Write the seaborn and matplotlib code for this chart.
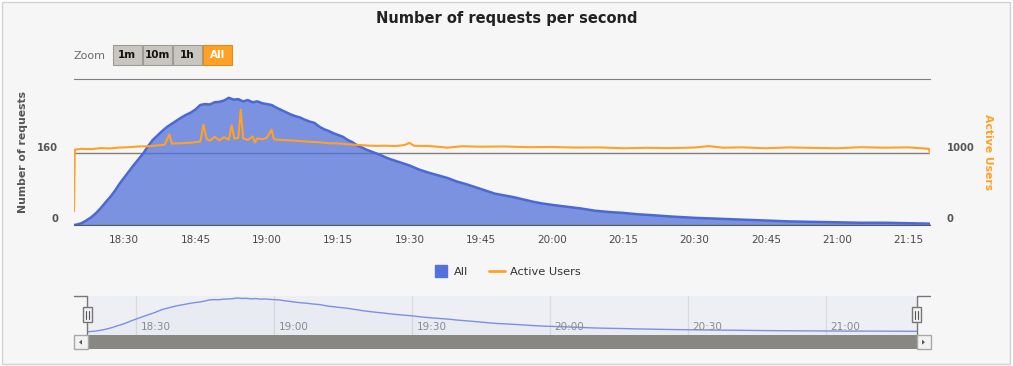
import pandas as pd
import matplotlib
matplotlib.use("Agg")
import matplotlib.pyplot as plt
import matplotlib.dates as mdates
import matplotlib.transforms as mtransforms
from matplotlib.patches import Rectangle, Polygon
from matplotlib.lines import Line2D
import seaborn as sns

DAY = "2016-01-01 "

# "All" series: number of requests per second
req_times = ["18:19:25", "18:20", "18:21", "18:22", "18:23", "18:24", "18:25", "18:26", "18:27", "18:28",
             "18:29", "18:30", "18:31", "18:32", "18:33", "18:34", "18:35", "18:36", "18:37", "18:38",
             "18:39", "18:40", "18:41", "18:42", "18:43", "18:44", "18:45", "18:46", "18:47", "18:48",
             "18:49", "18:50", "18:51", "18:52", "18:53", "18:54", "18:55", "18:56", "18:57", "18:58",
             "18:59", "19:00", "19:01", "19:02", "19:03", "19:04", "19:05", "19:06", "19:07", "19:08",
             "19:09", "19:10", "19:11", "19:12", "19:13", "19:14", "19:15", "19:16", "19:17", "19:18",
             "19:19", "19:20", "19:21", "19:22", "19:23", "19:24", "19:25", "19:26", "19:28", "19:30",
             "19:32", "19:34", "19:36", "19:38", "19:40", "19:42", "19:44", "19:46", "19:48", "19:50",
             "19:52", "19:54", "19:56", "19:58", "20:00", "20:03", "20:06", "20:09", "20:12", "20:15",
             "20:18", "20:21", "20:25", "20:30", "20:35", "20:40", "20:45", "20:50", "20:55", "21:00",
             "21:05", "21:10", "21:15", "21:19:34"]
req_values = [0, 1, 4, 10, 17, 26, 37, 50, 62, 76,
              92, 106, 120, 134, 147, 160, 176, 190, 200, 210,
              219, 226, 233, 240, 246, 251, 258, 268, 270, 269,
              274, 275, 278, 284, 280, 281, 276, 279, 274, 276,
              272, 270, 268, 262, 257, 252, 247, 243, 240, 235,
              231, 228, 220, 214, 210, 205, 201, 197, 190, 185,
              178, 173, 168, 164, 160, 156, 151, 147, 140, 133,
              124, 117, 111, 105, 97, 91, 84, 77, 70, 66,
              62, 57, 52, 48, 45, 41, 37, 32, 29, 27,
              24, 22, 19, 16, 14, 12, 10, 8, 7, 6,
              5, 5, 4, 3]

# "Active Users" series (right axis)
user_times = ["18:19:25", "18:19:35", "18:21", "18:23", "18:25", "18:27", "18:29", "18:31", "18:33", "18:35",
              "18:37", "18:38:30", "18:39:30", "18:40", "18:42", "18:44", "18:46", "18:46:40", "18:47:20", "18:48",
              "18:49", "18:50", "18:51", "18:52", "18:52:35", "18:53:10", "18:54", "18:54:30", "18:55", "18:56",
              "18:57", "18:57:30", "18:58", "18:59", "19:00", "19:01", "19:01:30", "19:03", "19:05", "19:07",
              "19:09", "19:11", "19:13", "19:15", "19:17", "19:19", "19:21", "19:23", "19:25", "19:27",
              "19:29", "19:30", "19:31", "19:34", "19:37", "19:38", "19:41", "19:45", "19:50", "19:55",
              "20:00", "20:05", "20:10", "20:15", "20:20", "20:25", "20:30", "20:33", "20:36", "20:40",
              "20:45", "20:50", "20:55", "21:00", "21:05", "21:10", "21:15", "21:19:20", "21:19:34"]
user_values = [190, 1050, 1062, 1058, 1072, 1068, 1080, 1085, 1095, 1098,
               1110, 1120, 1262, 1135, 1140, 1148, 1165, 1400, 1200, 1175,
               1230, 1180, 1225, 1190, 1390, 1205, 1215, 1610, 1210, 1185,
               1235, 1150, 1210, 1195, 1215, 1330, 1195, 1185, 1180, 1170,
               1160, 1155, 1140, 1138, 1125, 1118, 1108, 1104, 1106, 1100,
               1115, 1145, 1104, 1102, 1085, 1078, 1098, 1092, 1095, 1085,
               1088, 1080, 1082, 1070, 1076, 1072, 1080, 1100, 1078, 1083,
               1070, 1082, 1075, 1070, 1085, 1078, 1083, 1062, 1000]

x_ticks = ["18:30", "18:45", "19:00", "19:15", "19:30", "19:45", "20:00",
           "20:15", "20:30", "20:45", "21:00", "21:15"]
nav_ticks = ["18:30", "19:00", "19:30", "20:00", "20:30", "21:00"]
x_range = ["18:19:25", "21:19:34"]
left_ticks = [0, 160]
right_ticks = [0, 1000]
zoom_buttons = ["1m", "10m", "1h", "All"]


def ts(t):
    return pd.to_datetime(DAY + t)


df_req = pd.DataFrame({"time": [ts(t) for t in req_times], "requests": req_values})
df_users = pd.DataFrame({"time": [ts(t) for t in user_times], "users": user_values})

sns.set_style("white")
plt.rcParams["font.family"] = ["DejaVu Sans"]

BG = "#f6f6f6"
BLUE = "#5271d9"
BLUE_LINE = "#4a68d6"
ORANGE = "#ffa126"
W, H = 1013, 366


def fx(px):
    return px / W


def fy(py):
    return 1 - py / H


fig = plt.figure(figsize=(W / 100, H / 100), dpi=100)
fig.patch.set_facecolor("white")
fig.add_artist(Rectangle((fx(2), fy(364)), 1008 / W, 362 / H, transform=fig.transFigure,
                         facecolor=BG, edgecolor="#d2d2d2", lw=1, zorder=-1))

# main chart
ax = fig.add_axes([fx(74), fy(225), (930 - 74) / W, (225 - 79) / H])
ax.set_facecolor(BG)
xmin, xmax = ts(x_range[0]), ts(x_range[1])

ax.fill_between(df_req["time"], 0, df_req["requests"], color=BLUE, alpha=0.75, lw=0, zorder=1)
sns.lineplot(data=df_req, x="time", y="requests", ax=ax, color=BLUE_LINE, lw=1.8, legend=False, zorder=2)
ax.set_xlim(xmin, xmax)
ax.set_ylim(0, 326)
ax.set_axisbelow(True)
ax.set_yticks(left_ticks)
ax.set_yticklabels([str(v) for v in left_ticks], fontweight="bold")
ax.yaxis.grid(True, color="#7f7f7f", lw=1)
ax.xaxis.grid(False)
ax.set_xticks([ts(t) for t in x_ticks])
ax.set_xticklabels(x_ticks)
ax.tick_params(axis="x", length=6, width=1, color="#5a5a5a", labelsize=7.5, labelcolor="#484848", pad=1.5)
ax.tick_params(axis="y", length=0, labelsize=7.2, labelcolor="#555555", pad=11.3)
for side in ["left", "right"]:
    ax.spines[side].set_visible(False)
ax.spines["top"].set_color("#7f7f7f")
ax.spines["bottom"].set_color("#5a5a5a")
ax.set_xlabel("")
ax.set_ylabel("Number of requests", fontsize=7.8, fontweight="bold", color="#555555", va="center")
ax.yaxis.set_label_coords((22.7 - 74) / 856, 0.5)

ax2 = ax.twinx()
sns.lineplot(data=df_users, x="time", y="users", ax=ax2, color=ORANGE, lw=1.5, legend=False)
ax2.set_xlim(xmin, xmax)
ax2.set_ylim(0, 2036)
ax2.set_yticks(right_ticks)
ax2.set_yticklabels([str(v) for v in right_ticks], fontweight="bold")
ax2.tick_params(axis="y", length=0, labelsize=7.2, labelcolor="#555555", pad=12)
for s in ax2.spines.values():
    s.set_visible(False)
ax2.set_ylabel("Active Users", fontsize=7.8, fontweight="bold", color=ORANGE, rotation=270, va="center")
ax2.yaxis.set_label_coords((988.3 - 74) / 856, 0.5)

# tick labels sit slightly above their grid lines
shift = mtransforms.ScaledTranslation(0, 6.6 / 100, fig.dpi_scale_trans)
for lab in ax.get_yticklabels() + ax2.get_yticklabels():
    lab.set_transform(lab.get_transform() + shift)

fig.suptitle("Number of requests per second", x=0.5, y=fy(18), va="center",
             fontsize=10.5, fontweight="bold", color="#222222")

# range selector buttons
fig.text(fx(74), fy(56), "Zoom", ha="left", va="center", fontsize=8, color="#6b6b6b")
for i, name in enumerate(zoom_buttons):
    x0 = 112.5 + i * 30.1
    active = name == "All"
    fig.add_artist(Rectangle((fx(x0), fy(65.3)), 29.5 / W, 20 / H, transform=fig.transFigure,
                             facecolor=ORANGE if active else "#c9c5c1",
                             edgecolor="#d98c22" if active else "#9e9b97", lw=0.8))
    fig.text(fx(x0 + 14.75), fy(55.3), name, ha="center", va="center", fontsize=7.5,
             fontweight="bold", color="white" if active else "#111111")

# legend
handles = [Line2D([], [], marker="s", ms=9, ls="none", color="#5472dc"),
           Line2D([], [], color=ORANGE, lw=2)]
fig.legend(handles, ["All", "Active Users"], loc="center", bbox_to_anchor=(fx(507), fy(271.7)),
           ncol=2, frameon=False, fontsize=8.2, handlelength=1.4, handletextpad=0.45,
           columnspacing=1.84, labelcolor="#333333")

# navigator
nav = fig.add_axes([fx(87.3), fy(335), (916.5 - 87.3) / W, (335 - 295.7) / H])
nav.set_facecolor("#eeeff4")
nav.fill_between(df_req["time"], -28, df_req["requests"], color=BLUE, alpha=0.03, lw=0)
sns.lineplot(data=df_req, x="time", y="requests", ax=nav, color="#7a90e4", lw=1, legend=False)
nav.set_xlim(xmin, xmax)
nav.set_ylim(-28, 303)
nav.set_xticks([ts(t) for t in nav_ticks])
nav.xaxis.grid(True, color="#dcdcdc", lw=1)
nav.set_axisbelow(True)
nav.tick_params(axis="x", length=0, labelbottom=False)
nav.set_yticks([])
nav.set_xlabel("")
nav.set_ylabel("")
for s in nav.spines.values():
    s.set_visible(False)
lab_tr = mtransforms.blended_transform_factory(nav.transData, nav.transAxes) + \
    mtransforms.ScaledTranslation(4.3 / 100, 0, fig.dpi_scale_trans)
for t in nav_ticks:
    nav.text(mdates.date2num(ts(t)), 0.2, t, transform=lab_tr, ha="left", va="center",
             fontsize=7.5, color="#8a8a8a")

# navigator outline, handles and scrollbar
line_kw = dict(transform=fig.transFigure, color="#777777", lw=1, zorder=5)
fig.add_artist(Line2D([fx(74), fx(87.3), fx(87.3)], [fy(295.7), fy(295.7), fy(335)], **line_kw))
fig.add_artist(Line2D([fx(930), fx(916.5), fx(916.5)], [fy(295.7), fy(295.7), fy(335)], **line_kw))
for hx in [87.3, 916.5]:
    fig.add_artist(Rectangle((fx(hx - 4.2), fy(321.7)), 8.4 / W, 14.4 / H, transform=fig.transFigure,
                             facecolor="#f2f2f2", edgecolor="#777777", lw=1, zorder=6))
    for dx in [-1.2, 1.2]:
        fig.add_artist(Line2D([fx(hx + dx)] * 2, [fy(310.5), fy(318.5)], transform=fig.transFigure,
                              color="#555555", lw=0.8, zorder=7))

fig.add_artist(Rectangle((fx(87.3), fy(349.3)), (916.5 - 87.3) / W, 14.3 / H, transform=fig.transFigure,
                         facecolor="#888782", edgecolor="none", zorder=5))
for bx, d in [(73.5, -1), (916.5, 1)]:
    fig.add_artist(Rectangle((fx(bx), fy(349.3)), 14 / W, 14.3 / H, transform=fig.transFigure,
                             facecolor="#f2f2f2", edgecolor="#a8a8a8", lw=1, zorder=6))
    cx, cy = bx + 7, 342.2
    fig.add_artist(Polygon([(fx(cx + 1.5 * d), fy(cy)), (fx(cx - 1.5 * d), fy(cy - 2.5)),
                            (fx(cx - 1.5 * d), fy(cy + 2.5))], closed=True, transform=fig.transFigure,
                           facecolor="#555555", edgecolor="none", zorder=7))

fig.savefig("out.png", dpi=100, facecolor="white")
